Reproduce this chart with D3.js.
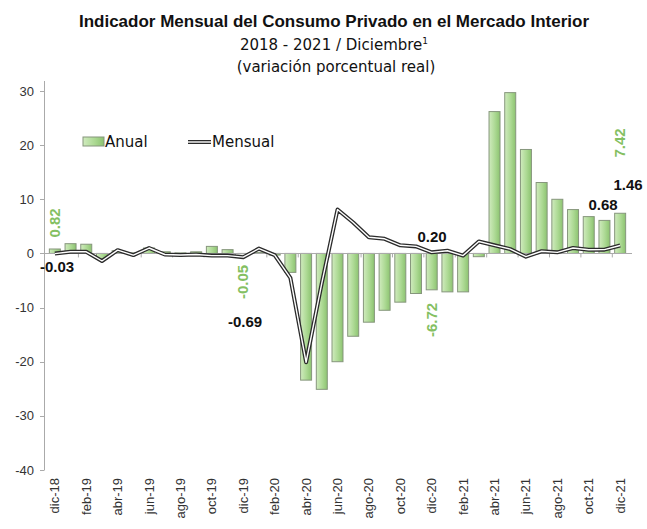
<!DOCTYPE html>
<html>
<head>
<meta charset="utf-8">
<script src="https://cdn.jsdelivr.net/npm/d3@7"></script>
<style>
  body { margin: 0; background: #fff; }
  text { font-family: "Liberation Sans", Arial, sans-serif; }
</style>
</head>
<body>
<div id="chart"></div>
<script>
var meses = ['dic-18','ene-19','feb-19','mar-19','abr-19','may-19','jun-19','jul-19','ago-19','sep-19','oct-19','nov-19',
    'dic-19','ene-20','feb-20','mar-20','abr-20','may-20','jun-20','jul-20','ago-20','sep-20','oct-20','nov-20',
    'dic-20','ene-21','feb-21','mar-21','abr-21','may-21','jun-21','jul-21','ago-21','sep-21','oct-21','nov-21','dic-21'];

// variacion anual (barras)
var anual = [0.82, 1.8, 1.7, -1.0, 0.5, 0.1, 1.0, 0.3, 0.1, 0.3, 1.3, 0.7,
    -0.05, 0.2, -0.3, -3.5, -23.4, -25.1, -20.0, -15.3, -12.7, -10.5, -9.0, -7.4,
    -6.72, -7.1, -7.1, -0.6, 26.2, 29.7, 19.2, 13.1, 10.0, 8.1, 6.8, 6.1, 7.42];

// variacion mensual (linea)
var mensual = [-0.03, 0.3, 0.3, -1.4, 0.6, -0.3, 1.0, -0.2, -0.3, -0.2, -0.4, -0.4,
    -0.69, 0.9, -0.3, -4.5, -20.1, -5.5, 8.1, 5.7, 3.0, 2.7, 1.5, 1.3,
    0.20, 0.5, -0.4, 2.2, 1.5, 0.8, -0.6, 0.4, 0.2, 1.0, 0.68, 0.7, 1.46];

var yTicks = [30, 20, 10, 0, -10, -20, -30, -40];

// etiquetas de datos
var etiquetasAnual = [{i: 0, t: '0.82'}, {i: 12, t: '-0.05'}, {i: 24, t: '-6.72'}, {i: 36, t: '7.42'}];
var etiquetasMensual = [{i: 0, t: '-0.03'}, {i: 12, t: '-0.69'}, {i: 24, t: '0.20'}, {i: 34, t: '0.68'}, {i: 36, t: '1.46'}];

var width = 647, height = 529;

var svg = d3.select('#chart')
    .append('svg')
    .attr('width', width)
    .attr('height', height);

var x = d3.scaleBand()
    .domain(meses)
    .range([47, 628])
    .paddingInner(0.3)
    .paddingOuter(0.15);

var y = d3.scaleLinear()
    .domain([-40, 30])
    .range([470, 91]);

var cx = function(i){ return x(meses[i]) + x.bandwidth() / 2; };

// gradiente de barras
var defs = svg.append('defs');
var grad = defs.append('linearGradient').attr('id', 'gBar').attr('x1', 0).attr('x2', 1).attr('y1', 0).attr('y2', 0);
grad.append('stop').attr('offset', '0%').attr('stop-color', '#d0ebbe');
grad.append('stop').attr('offset', '55%').attr('stop-color', '#acd993');
grad.append('stop').attr('offset', '100%').attr('stop-color', '#8cc370');

// titulos
svg.append('text')
    .attr('x', 334).attr('y', 27)
    .attr('text-anchor', 'middle')
    .style('font-size', '17px').style('font-weight', 'bold').style('fill', '#111')
    .text('Indicador Mensual del Consumo Privado en el Mercado Interior');
var sub = svg.append('text')
    .attr('x', 334).attr('y', 50)
    .attr('text-anchor', 'middle')
    .style('font-family', '"DejaVu Sans", sans-serif')
    .style('font-size', '15px').style('fill', '#111');
sub.append('tspan').text('2018 - 2021 / Diciembre');
sub.append('tspan').attr('dy', -6).style('font-size', '9px').text('1');
svg.append('text')
    .attr('x', 336).attr('y', 72)
    .attr('text-anchor', 'middle')
    .style('font-family', '"DejaVu Sans", sans-serif')
    .style('font-size', '15px').style('fill', '#111')
    .text('(variación porcentual real)');

// eje y
svg.append('line')
    .attr('x1', 44.5).attr('x2', 44.5)
    .attr('y1', 81).attr('y2', y(-40))
    .style('stroke', '#aaa');
svg.selectAll('.ytick')
    .data(yTicks)
    .enter()
    .append('line')
    .attr('x1', 40).attr('x2', 44.5)
    .attr('y1', function(d){ return Math.round(y(d)) + 0.5; })
    .attr('y2', function(d){ return Math.round(y(d)) + 0.5; })
    .style('stroke', '#aaa');
svg.selectAll('.ylab')
    .data(yTicks)
    .enter()
    .append('text')
    .attr('x', 34)
    .attr('y', function(d){ return y(d) + 4.5; })
    .attr('text-anchor', 'end')
    .style('font-size', '13px').style('fill', '#333')
    .text(function(d){ return d; });

// barras
svg.selectAll('.bar')
    .data(anual)
    .enter()
    .append('rect')
    .attr('x', function(d, i){ return x(meses[i]); })
    .attr('y', function(d){ return y(Math.max(0, d)); })
    .attr('width', x.bandwidth())
    .attr('height', function(d){ return Math.abs(y(d) - y(0)); })
    .style('fill', 'url(#gBar)')
    .style('stroke', '#86967c')
    .style('stroke-width', 1);

// linea cero y marcas
svg.append('line')
    .attr('x1', 44.5).attr('x2', 632)
    .attr('y1', Math.round(y(0)) + 0.5).attr('y2', Math.round(y(0)) + 0.5)
    .style('stroke', '#aaa');
var marcas = d3.range(2, meses.length, 2);
svg.selectAll('.xtick')
    .data(marcas)
    .enter()
    .append('line')
    .attr('x1', function(i){ return x(meses[i]) - x.step() * x.paddingInner() / 2; })
    .attr('x2', function(i){ return x(meses[i]) - x.step() * x.paddingInner() / 2; })
    .attr('y1', y(0)).attr('y2', y(0) + 4)
    .style('stroke', '#aaa');

// etiquetas eje x
svg.selectAll('.xlab')
    .data(meses.filter(function(d, i){ return i % 2 === 0; }))
    .enter()
    .append('text')
    .attr('transform', function(d){ return 'translate(' + (x(d) + x.bandwidth() / 2 + 4.5) + ',478) rotate(-90)'; })
    .attr('text-anchor', 'end')
    .style('font-size', '13px').style('fill', '#333')
    .text(function(d){ return d; });

// linea mensual
var linea = d3.line()
    .x(function(d, i){ return cx(i); })
    .y(function(d){ return y(d); });
svg.append('path')
    .datum(mensual)
    .attr('d', linea)
    .style('fill', 'none').style('stroke', '#2b2b2b').style('stroke-width', 4).style('stroke-linejoin', 'round');
svg.append('path')
    .datum(mensual)
    .attr('d', linea)
    .style('fill', 'none').style('stroke', '#fff').style('stroke-width', 1.4).style('stroke-linejoin', 'round');

// etiquetas anual (verdes, verticales)
var posAnual = {0: 223, 12: 282, 24: 320, 36: 143};
svg.selectAll('.labA')
    .data(etiquetasAnual)
    .enter()
    .append('text')
    .attr('transform', function(d){ return 'translate(' + (cx(d.i) + 5) + ',' + posAnual[d.i] + ') rotate(-90)'; })
    .attr('text-anchor', 'middle')
    .style('font-size', '15px').style('font-weight', 'bold').style('fill', '#84c062')
    .text(function(d){ return d.t; });

// etiquetas mensual
var posMensual = {0: [57, 272], 12: [245, 327], 24: [432, 242], 34: [603, 210], 36: [628, 190]};
svg.selectAll('.labM')
    .data(etiquetasMensual)
    .enter()
    .append('text')
    .attr('x', function(d){ return posMensual[d.i][0]; })
    .attr('y', function(d){ return posMensual[d.i][1]; })
    .attr('text-anchor', 'middle')
    .style('font-size', '15px').style('font-weight', 'bold').style('fill', '#111')
    .text(function(d){ return d.t; });

// leyenda
svg.append('rect')
    .attr('x', 83).attr('y', 137).attr('width', 21).attr('height', 9)
    .style('fill', 'url(#gBar)').style('stroke', '#86967c');
svg.append('text')
    .attr('x', 105).attr('y', 147)
    .style('font-family', '"DejaVu Sans", sans-serif')
    .style('font-size', '15px').style('fill', '#111')
    .text('Anual');
svg.append('line')
    .attr('x1', 188).attr('x2', 211).attr('y1', 142).attr('y2', 142)
    .style('stroke', '#2b2b2b').style('stroke-width', 4);
svg.append('line')
    .attr('x1', 188).attr('x2', 211).attr('y1', 142).attr('y2', 142)
    .style('stroke', '#fff').style('stroke-width', 1.4);
svg.append('text')
    .attr('x', 212).attr('y', 147)
    .style('font-family', '"DejaVu Sans", sans-serif')
    .style('font-size', '15px').style('fill', '#111')
    .text('Mensual');
</script>
</body>
</html>
